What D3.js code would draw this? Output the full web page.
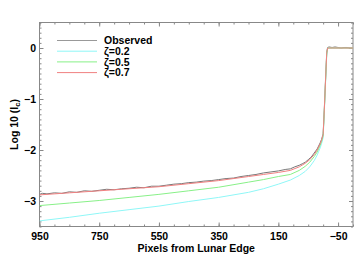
<!DOCTYPE html>
<html>
<head>
<meta charset="utf-8">
<script src="https://cdn.jsdelivr.net/npm/d3@7"></script>
<style>
  body { margin: 0; background: #fff; }
  text { font-family: "Liberation Sans", Arial, sans-serif; font-weight: bold; }
</style>
</head>
<body>
<div id="chart"></div>
<script>
// pixels from lunar edge (x) and log10 intensity (y)
const obsX = [950, 940, 925, 900, 875, 850, 825, 800, 775, 750, 725, 700, 675, 650, 625, 600, 575, 550,
  525, 500, 475, 450, 425, 400, 375, 350, 325, 300, 275, 250, 225, 200, 175, 150, 125, 110, 95, 80, 70,
  60, 50, 40, 30, 20, 10, 5, 0, -4, -8, -12, -15, -20, -30, -40, -50, -60, -70, -80, -90, -100];
const obsY = [-2.87, -2.85, -2.86, -2.84, -2.85, -2.82, -2.83, -2.80, -2.81, -2.79, -2.77, -2.78, -2.76,
  -2.75, -2.73, -2.74, -2.71, -2.71, -2.69, -2.67, -2.66, -2.64, -2.63, -2.61, -2.60, -2.58, -2.56, -2.55,
  -2.52, -2.50, -2.48, -2.45, -2.43, -2.41, -2.38, -2.37, -2.33, -2.30, -2.27, -2.24, -2.19, -2.14, -2.06,
  -1.98, -1.86, -1.79, -1.68, -1.18, -0.62, -0.08, 0.01, 0.02, 0.01, 0.02, 0.01, 0.0, 0.01, 0.01, 0.0, 0.0];

const modelX = [950, 850, 750, 650, 550, 450, 350, 250, 200, 150, 110, 80, 60, 45, 30, 20, 10, 5, 0,
  -4, -8, -12, -15, -30, -50, -70, -100];
const zeta02 = [-3.39, -3.32, -3.24, -3.17, -3.10, -3.01, -2.93, -2.83, -2.76, -2.67, -2.59, -2.50, -2.42,
  -2.33, -2.21, -2.10, -1.96, -1.87, -1.76, -1.25, -0.70, -0.15, 0, 0, 0, 0, 0];
const zeta05 = [-3.09, -3.04, -2.99, -2.93, -2.87, -2.80, -2.73, -2.63, -2.58, -2.52, -2.48, -2.40, -2.32,
  -2.24, -2.13, -2.04, -1.91, -1.83, -1.72, -1.22, -0.67, -0.12, 0, 0, 0, 0, 0];
const zeta07 = [-2.88, -2.84, -2.80, -2.76, -2.72, -2.66, -2.60, -2.52, -2.48, -2.44, -2.40, -2.33, -2.26,
  -2.19, -2.09, -2.00, -1.88, -1.80, -1.70, -1.20, -0.65, -0.10, 0, 0, 0, 0, 0];

const xMajor = [950, 750, 550, 350, 150, -50];
const yMajor = [0, -1, -2, -3];
const legendNames = ["Observed", "\u03b6=0.2", "\u03b6=0.5", "\u03b6=0.7"];
const colors = ["#777777", "#8ff7f7", "#88f088", "#f08080"];

const width = 359, height = 277;
const margin = {top: 22.5, right: 6, bottom: 50.5, left: 39.5};

const svg = d3.select("#chart").append("svg")
  .attr("width", width).attr("height", height);

const x = d3.scaleLinear().domain([950, -100]).range([margin.left, width - margin.right]);
const y = d3.scaleLinear().domain([-3.5, 0.5]).range([height - margin.bottom, margin.top]);

const xMinor = d3.range(950, -101, -50);
const yMinor = d3.range(-35, 6).map(d => d / 10);

const pBottom = y(-3.5), pTop = y(0.5), pLeft = x(950), pRight = x(-100);

svg.append("clipPath").attr("id", "clip").append("rect")
  .attr("x", pLeft).attr("y", pTop)
  .attr("width", pRight - pLeft).attr("height", pBottom - pTop);

// axes: ticks on all four sides, pointing inwards
const axisColor = "#888";
function addAxis(axis, tx, ty) {
  const g = svg.append("g").attr("transform", `translate(${tx},${ty})`).call(axis);
  g.select(".domain").remove();
  g.selectAll("line").attr("stroke", axisColor);
  g.selectAll("text").attr("fill", "#000").style("font-size", "10.5px");
  return g;
}

addAxis(d3.axisBottom(x).tickValues(xMinor).tickSize(-2).tickFormat(""), 0, pBottom);
addAxis(d3.axisTop(x).tickValues(xMinor).tickSize(-2).tickFormat(""), 0, pTop);
addAxis(d3.axisBottom(x).tickValues(xMajor).tickSize(-4).tickPadding(6.5), 0, pBottom);
addAxis(d3.axisTop(x).tickValues(xMajor).tickSize(-4).tickFormat(""), 0, pTop);

addAxis(d3.axisLeft(y).tickValues(yMinor).tickSize(-2).tickFormat(""), pLeft, 0);
addAxis(d3.axisRight(y).tickValues(yMinor).tickSize(-2).tickFormat(""), pRight, 0);
addAxis(d3.axisLeft(y).tickValues(yMajor).tickSize(-4).tickPadding(3.5).tickFormat(d3.format("d")), pLeft, 0);
addAxis(d3.axisRight(y).tickValues(yMajor).tickSize(-4).tickFormat(""), pRight, 0);

svg.append("rect")
  .attr("x", pLeft).attr("y", pTop)
  .attr("width", pRight - pLeft).attr("height", pBottom - pTop)
  .attr("fill", "none").attr("stroke", axisColor).attr("stroke-width", 1);

// curves
const line = d3.line().x(d => x(d[0])).y(d => y(d[1]));
const series = [
  d3.zip(obsX, obsY),
  d3.zip(modelX, zeta02),
  d3.zip(modelX, zeta05),
  d3.zip(modelX, zeta07)
];
svg.append("g").attr("clip-path", "url(#clip)")
  .selectAll("path").data(series).join("path")
  .attr("d", line)
  .attr("fill", "none")
  .attr("stroke", (d, i) => colors[i])
  .attr("stroke-width", 1);

// legend
const legend = svg.append("g");
legendNames.forEach((name, i) => {
  const ly = 40.5 + i * 10.7;
  legend.append("line")
    .attr("x1", 57).attr("x2", 97).attr("y1", ly).attr("y2", ly)
    .attr("stroke", i === 0 ? "#999" : colors[i]).attr("stroke-width", 1);
  legend.append("text")
    .attr("x", 104).attr("y", ly).attr("dy", "0.36em")
    .style("font-size", "10.5px")
    .text(name);
});

// axis titles
svg.append("text")
  .attr("x", (pLeft + pRight) / 2).attr("y", 251.5)
  .attr("text-anchor", "middle")
  .style("font-size", "10.5px")
  .text("Pixels from Lunar Edge");

const yt = svg.append("text")
  .attr("transform", `translate(17.5,${(pTop + pBottom) / 2}) rotate(-90)`)
  .attr("text-anchor", "middle")
  .style("font-size", "10.5px");
yt.append("tspan").text("Log 10 (I");
yt.append("tspan").attr("dy", 2.5).style("font-size", "7.5px").text("c");
yt.append("tspan").attr("dy", -2.5).text(")");
</script>
</body>
</html>
